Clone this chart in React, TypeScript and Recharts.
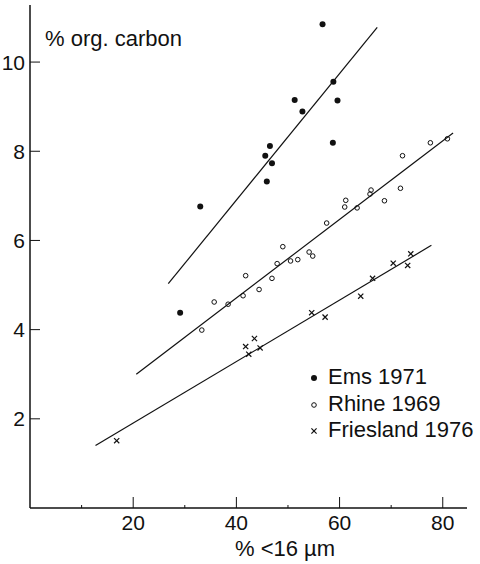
import React from "react";
import {
  ScatterChart,
  Scatter,
  XAxis,
  YAxis,
  Legend,
} from "recharts";

// % < 16 µm vs % organic carbon
const emsX = [29.1, 33.0, 46.5, 45.6, 46.9, 45.9, 56.7, 58.8, 51.3, 52.8, 59.6, 58.7];
const emsY = [4.38, 6.76, 8.12, 7.9, 7.73, 7.32, 10.85, 9.56, 9.15, 8.89, 9.14, 8.19];

const rhineX = [
  33.3, 35.7, 38.4, 41.3, 41.8, 44.4, 46.9, 47.9, 49.0, 50.5, 51.9, 54.1,
  54.8, 57.5, 61.2, 61.0, 63.4, 66.1, 65.9, 68.7, 71.8, 72.2, 77.6, 80.9,
];
const rhineY = [
  3.99, 4.62, 4.57, 4.76, 5.21, 4.9, 5.15, 5.48, 5.86, 5.54, 5.57, 5.74,
  5.65, 6.39, 6.9, 6.75, 6.73, 7.13, 7.04, 6.89, 7.17, 7.9, 8.19, 8.28,
];

const frieslandX = [16.8, 41.8, 43.5, 42.4, 44.6, 54.6, 57.2, 64.1, 66.4, 70.4, 73.2, 73.8];
const frieslandY = [1.51, 3.62, 3.8, 3.45, 3.59, 4.38, 4.28, 4.75, 5.15, 5.49, 5.44, 5.7];

// regression line end points
const emsFitX = [26.8, 67.3];
const emsFitY = [5.03, 10.78];
const rhineFitX = [20.6, 82.0];
const rhineFitY = [3.0, 8.41];
const frieslandFitX = [12.7, 77.8];
const frieslandFitY = [1.4, 5.89];

const xTicks = [10, 20, 30, 40, 50, 60, 70, 80];
const yTicks = [2, 4, 6, 8, 10];

const zip = (xs: number[], ys: number[]) => xs.map((x, i) => ({ x, y: ys[i] }));

const INK = "#111";
const FONT = "'Liberation Sans', Arial, sans-serif";

const Filled = (p: any) => <circle cx={p.cx} cy={p.cy} r={3} fill={INK} />;
const Open = (p: any) => (
  <circle cx={p.cx} cy={p.cy} r={2.3} fill="none" stroke={INK} strokeWidth={1} />
);
const Cross = (p: any) => {
  const s = 2.6;
  return (
    <g stroke={INK} strokeWidth={1.2}>
      <line x1={p.cx - s} y1={p.cy - s} x2={p.cx + s} y2={p.cy + s} />
      <line x1={p.cx - s} y1={p.cy + s} x2={p.cx + s} y2={p.cy - s} />
    </g>
  );
};
const NoShape = () => <g />;

const YTick = (p: any) => {
  const { x, y, payload } = p;
  return (
    <g>
      <line x1={x} x2={x + 10} y1={y} y2={y} stroke={INK} strokeWidth={1} />
      <text x={x - 5} y={y} dy="0.36em" textAnchor="end" fontSize={21} fill={INK} fontFamily={FONT}>
        {payload.value}
      </text>
    </g>
  );
};

const XTick = (p: any) => {
  const { x, y, payload } = p;
  const major = payload.value % 20 === 0;
  return (
    <g>
      <line x1={x} x2={x} y1={y} y2={y - (major ? 11 : 3)} stroke={INK} strokeWidth={1} />
      {major && (
        <text x={x} y={y + 22} textAnchor="middle" fontSize={21} fill={INK} fontFamily={FONT}>
          {payload.value}
        </text>
      )}
    </g>
  );
};

const legendRows = [
  { name: "Ems 1971", Shape: Filled },
  { name: "Rhine 1969", Shape: Open },
  { name: "Friesland 1976", Shape: Cross },
];

const LegendBox = () => (
  <div style={{ fontFamily: FONT, fontSize: 22, color: INK }}>
    {legendRows.map(({ name, Shape }) => (
      <div key={name} style={{ display: "flex", alignItems: "center", height: 26.5, lineHeight: "26.5px" }}>
        <svg width={14} height={14} style={{ marginRight: 7 }}>
          <Shape cx={7} cy={8} />
        </svg>
        <span>{name}</span>
      </div>
    ))}
  </div>
);

export default function App() {
  return (
    <div style={{ position: "absolute", left: 0, top: 0, width: 480, height: 564, background: "#fff" }}>
      <ScatterChart width={480} height={564} margin={{ top: 5, right: 13, bottom: 0, left: 0 }}>
        <XAxis
          type="number"
          dataKey="x"
          domain={[0, 84.7]}
          ticks={xTicks}
          tick={<XTick />}
          tickSize={0}
          tickMargin={0}
          height={56}
          axisLine={{ stroke: INK, strokeWidth: 1.5 }}
          allowDataOverflow
          label={{
            content: ({ viewBox }: any) => (
              <text x={viewBox.x + 205} y={viewBox.y + 48} fontSize={22} fill={INK} fontFamily={FONT}>
                % &lt;16 µm
              </text>
            ),
          }}
        />
        <YAxis
          type="number"
          dataKey="y"
          domain={[0, 11.28]}
          ticks={yTicks}
          tick={<YTick />}
          tickSize={0}
          tickMargin={0}
          width={30}
          axisLine={{ stroke: INK, strokeWidth: 1.5 }}
          allowDataOverflow
          label={{
            content: ({ viewBox }: any) => (
              <text x={viewBox.x + viewBox.width + 15} y={viewBox.y + 41} fontSize={22} fill={INK} fontFamily={FONT}>
                % org. carbon
              </text>
            ),
          }}
        />
        <Legend
          layout="vertical"
          align="center"
          verticalAlign="middle"
          content={<LegendBox />}
          wrapperStyle={{ position: "absolute", left: 307, top: 364, width: 175 }}
        />
        <Scatter data={zip(emsFitX, emsFitY)} line={{ stroke: INK, strokeWidth: 1.2 }} shape={NoShape} legendType="none" isAnimationActive={false} />
        <Scatter data={zip(rhineFitX, rhineFitY)} line={{ stroke: INK, strokeWidth: 1.2 }} shape={NoShape} legendType="none" isAnimationActive={false} />
        <Scatter data={zip(frieslandFitX, frieslandFitY)} line={{ stroke: INK, strokeWidth: 1.2 }} shape={NoShape} legendType="none" isAnimationActive={false} />
        <Scatter name="Ems 1971" data={zip(emsX, emsY)} shape={Filled} isAnimationActive={false} />
        <Scatter name="Rhine 1969" data={zip(rhineX, rhineY)} shape={Open} isAnimationActive={false} />
        <Scatter name="Friesland 1976" data={zip(frieslandX, frieslandY)} shape={Cross} isAnimationActive={false} />
      </ScatterChart>
    </div>
  );
}
